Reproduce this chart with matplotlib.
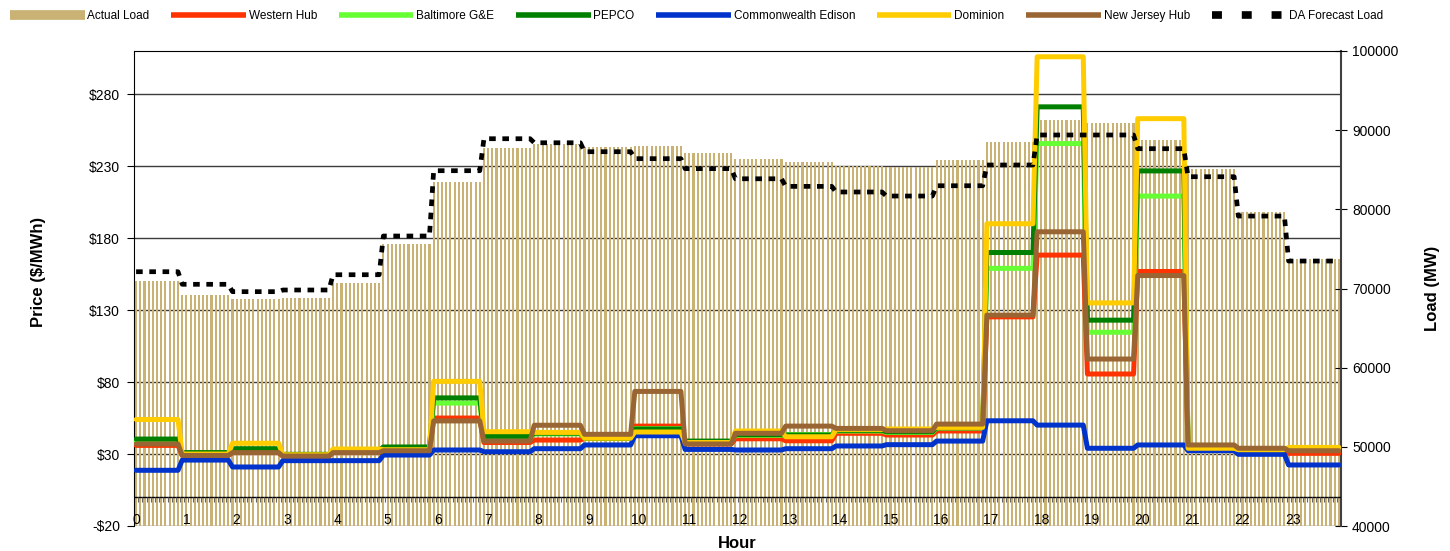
import numpy as np
import matplotlib
matplotlib.use('Agg')
import matplotlib.pyplot as plt
import matplotlib.transforms as mtransforms
from matplotlib.lines import Line2D
from matplotlib.ticker import FuncFormatter, FixedLocator

plt.rcParams['font.family'] = ['Liberation Sans', 'DejaVu Sans']

# ---------------- data (hourly values) ----------------
hours = list(range(24))
hour_labels = [str(h) for h in hours]

actual_load = [70950, 69180, 68700, 68800, 70700, 75620, 83410, 87700, 88210, 87870,
               88000, 87080, 86330, 85980, 85500, 85400, 86230, 88460, 91280, 90860,
               88760, 85050, 79620, 73770]
da_forecast = [72120, 70530, 69600, 69810, 71740, 76630, 84880, 88920, 88410, 87280,
               86400, 85140, 83860, 82900, 82190, 81680, 82980, 85600, 89390, 89390,
               87660, 84120, 79150, 73470]

western_hub = [36, 29, 31, 28.5, 31, 32, 55, 38, 39.7, 41, 49.4, 37, 40.6, 39.2, 44.4,
               43.2, 46, 125.3, 168.2, 85.6, 156.8, 35.5, 33.5, 30.5]
baltimore = [39, 30.5, 33, 29.5, 32, 34.5, 65.4, 41, 44, 41, 47.6, 38.5, 43, 43.5, 46,
             45, 48, 159, 245.7, 114.6, 209.2, 35, 33.5, 33]
pepco = [40.4, 31, 33.7, 29.8, 32.5, 34.9, 69, 42.3, 44.5, 41, 47.3, 39, 43.5, 43.2,
         46.5, 45.5, 48.3, 170, 271.2, 123, 226.7, 35.2, 33.5, 33.5]
comed = [18.7, 25.8, 21, 25.4, 25.4, 29.3, 32.8, 31.6, 33.7, 36.3, 42.7, 33.2, 32.8,
         33.7, 35.6, 36.5, 39, 53.1, 50.1, 34, 36.3, 32.3, 29.8, 22.4]
dominion = [54, 30, 37.5, 29.5, 33.5, 33, 80.5, 45.5, 45, 41, 45.3, 38, 46, 42, 47.1,
            47.4, 48.5, 190, 306, 135, 263, 34, 33, 34.6]
nj_hub = [37, 29, 31, 28.6, 31, 32.3, 53, 39, 50, 43.7, 73.5, 37, 44.4, 49.4, 47.8,
          46.2, 50.8, 126.5, 184.4, 96, 154, 36.3, 34, 32.3]

price_ticks = [-20, 30, 80, 130, 180, 230, 280]
load_ticks = [40000, 50000, 60000, 70000, 80000, 90000, 100000]

# ---------------- 5-minute expansion ----------------
points_per_hour = 12
n_points = 24 * points_per_hour
k = np.arange(n_points)
hour_of_point = np.minimum((k + 1) // points_per_hour, 23)


def expand(vals):
    return np.asarray(vals, dtype=float)[hour_of_point]


fig = plt.figure(figsize=(14.5, 5.51), dpi=100)
L, R, T, B = 134 / 1450, 1341 / 1450, 1 - 51 / 551, 1 - 526 / 551
ax_load = fig.add_axes([L, B, R - L, T - B])
ax_price = ax_load.twinx()
ax_da = ax_load.twinx()

load_lim = (40000, 100000)
price_lim = (-20, 310)
ax_load.set_ylim(*load_lim)
ax_da.set_ylim(*load_lim)
ax_price.set_ylim(*price_lim)
for a in (ax_load, ax_price, ax_da):
    a.set_xlim(-0.5, n_points - 0.5)

# gridlines at price ticks, behind bars
blend = mtransforms.blended_transform_factory(ax_load.transAxes, ax_price.transData)
ax_load.hlines(price_ticks, 0, 1, transform=blend, colors='#3c3c3c', lw=1.0, zorder=0)

# actual load bars
bar_color = '#C9B274'
ax_load.bar(k, expand(actual_load) - load_lim[0], bottom=load_lim[0], width=0.5,
            color=bar_color, zorder=1, linewidth=0)

# zero axis line with category ticks
ax_price.axhline(0, color='black', lw=1.0, zorder=2)
ax_price.vlines(k - 0.5, -3.5, 0, colors='#666666', lw=0.8, zorder=2)

series = [
    ('Western Hub', western_hub, '#FF3300'),
    ('Baltimore G&E', baltimore, '#66FF33'),
    ('PEPCO', pepco, '#008000'),
    ('Commonwealth Edison', comed, '#0033CC'),
    ('Dominion', dominion, '#FFCC00'),
    ('New Jersey Hub', nj_hub, '#996633'),
]
handles = [Line2D([], [], color=bar_color, lw=7, solid_capstyle='butt')]
labels = ['Actual Load']
for name, vals, col in series:
    ax_price.plot(k, expand(vals), color=col, lw=3.6, zorder=3,
                  solid_joinstyle='round', solid_capstyle='round')
    handles.append(Line2D([], [], color=col, lw=4, solid_capstyle='butt'))
    labels.append(name)

ax_da.plot(k, expand(da_forecast), color='black', lw=3.4, dashes=(1.4, 1.4),
           dash_capstyle='butt', zorder=4)
handles.append(Line2D([], [], color='black', lw=5.5, dashes=(1.3, 2.6), dash_capstyle='butt'))
labels.append('DA Forecast Load')

# ---------------- axes styling ----------------
ax_da.axis('off')
for s in ax_price.spines.values():
    s.set_visible(False)
ax_price.spines['left'].set_visible(True)
ax_price.spines['left'].set_color('black')
ax_price.yaxis.set_label_position('left')
ax_price.yaxis.tick_left()
ax_price.yaxis.set_major_locator(FixedLocator(price_ticks))
ax_price.yaxis.set_major_formatter(FuncFormatter(lambda v, p: ('-$%d' % abs(v)) if v < 0 else ('$%d' % v)))
ax_price.tick_params(axis='y', direction='out', length=5, pad=5, labelsize=10, colors='black')
ax_price.tick_params(axis='x', bottom=False, labelbottom=False)

ax_load.spines['left'].set_visible(False)
ax_load.spines['bottom'].set_visible(False)
ax_load.spines['top'].set_color('black')
ax_load.spines['right'].set_color('#404040')
ax_load.spines['right'].set_linewidth(1.5)
ax_load.yaxis.tick_right()
ax_load.yaxis.set_major_locator(FixedLocator(load_ticks))
ax_load.yaxis.set_major_formatter(FuncFormatter(lambda v, p: '%d' % v))
ax_load.tick_params(axis='y', direction='inout', length=8, pad=4, labelsize=10)
ax_load.set_xticks(k[::points_per_hour])
ax_load.set_xticklabels(hour_labels)
ax_load.tick_params(axis='x', length=0, pad=-9, labelsize=10)
ax_load.set_facecolor('white')

fig.text(39 / 1450, 1 - 272 / 551, 'Price ($/MWh)', rotation=90, ha='center', va='center',
         fontsize=12, fontweight='bold')
fig.text(1432 / 1450, 1 - 288 / 551, 'Load (MW)', rotation=90, ha='center', va='center',
         fontsize=12, fontweight='bold')
fig.text(737 / 1450, 1 - 544 / 551, 'Hour', ha='center', va='center',
         fontsize=12, fontweight='bold')

fig.legend(handles, labels, loc='center left', bbox_to_anchor=(0.007, 1 - 16 / 551),
           ncol=8, frameon=False, fontsize=8.5, handlelength=6.3, handletextpad=0.25,
           columnspacing=1.85, borderaxespad=0, borderpad=0)

fig.savefig('out.png', dpi=100)
